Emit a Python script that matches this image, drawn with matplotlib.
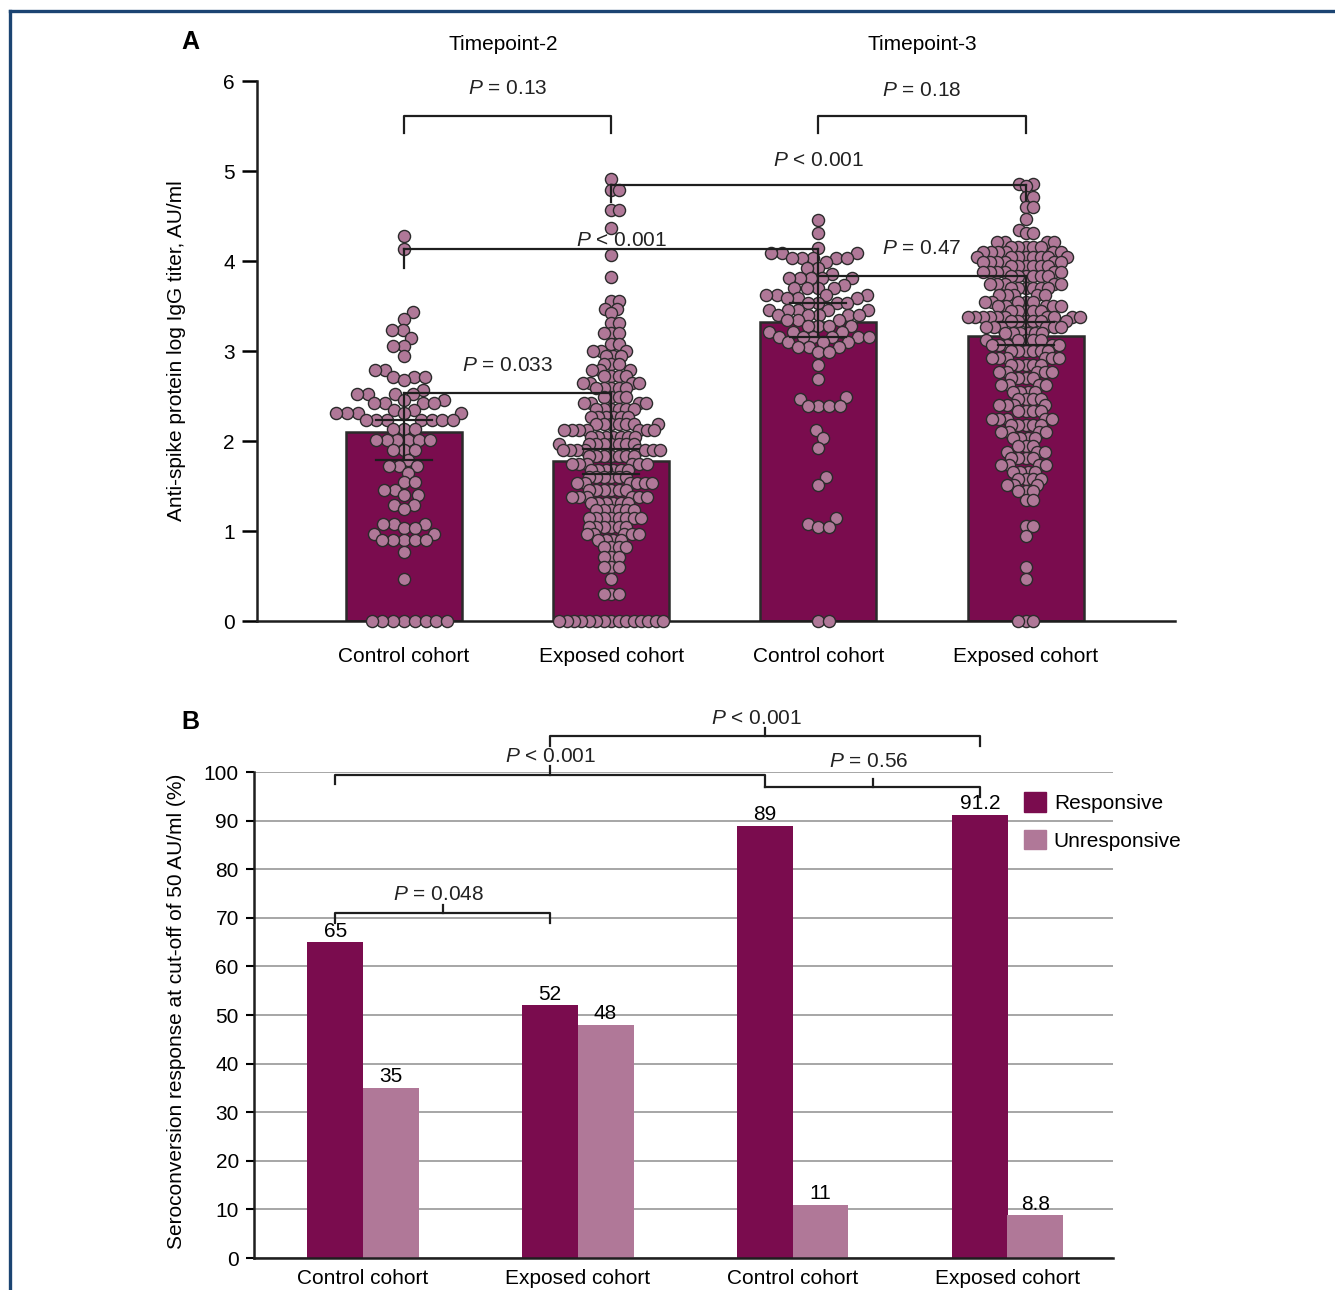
import numpy as np
import matplotlib
matplotlib.use("Agg")
import matplotlib.pyplot as plt
from matplotlib.lines import Line2D
from matplotlib.patches import Patch

plt.rcParams['font.family'] = ['Liberation Sans', 'DejaVu Sans']
plt.rcParams['mathtext.fontset'] = 'custom'
plt.rcParams['mathtext.rm'] = 'Liberation Sans'
plt.rcParams['mathtext.it'] = 'Liberation Sans:italic'

DARK = '#7a0c4e'
PINK = '#b07898'
EDGE = '#2b2b2b'
FS = 15

groups_a = ['Control cohort', 'Exposed cohort', 'Control cohort', 'Exposed cohort']
bar_means = [2.10, 1.78, 3.32, 3.17]
err_lo = [1.79, 1.63, 3.16, 3.07]
err_hi = [2.23, 1.91, 3.53, 3.32]

ctrl_t2_lv = [4.28, 4.13, 3.43, 3.36, 3.23, 3.15, 3.06, 2.94, 2.79, 2.71, 2.68, 2.57, 2.52, 2.46,
              2.42, 2.35, 2.31, 2.23, 2.13, 2.01, 1.90, 1.79, 1.72, 1.65, 1.54, 1.46, 1.40, 1.29,
              1.25, 1.08, 1.03, 0.97, 0.90, 0.77, 0.47, 0.0]
ctrl_t2_n = [1, 1, 1, 1, 2, 1, 2, 1, 2, 3, 1, 1, 4, 2,
             4, 2, 5, 7, 3, 6, 3, 1, 3, 1, 2, 2, 2, 2,
             1, 3, 2, 2, 5, 1, 1, 8]

exp_t2_lv = [4.91, 4.79, 4.57, 4.37, 4.07, 3.82, 3.56, 3.47, 3.42, 3.31, 3.20, 3.08, 3.00, 2.94,
             2.86, 2.79, 2.72, 2.64, 2.59, 2.49, 2.42, 2.36, 2.27, 2.19, 2.12, 2.05, 1.97, 1.90,
             1.83, 1.75, 1.68, 1.60, 1.53, 1.46, 1.38, 1.31, 1.23, 1.14, 1.05, 0.97, 0.90, 0.82,
             0.71, 0.60, 0.47, 0.30, 0.0]
exp_t2_n = [1, 2, 2, 1, 1, 1, 2, 2, 1, 2, 3, 2, 3, 3,
            3, 3, 4, 4, 5, 4, 4, 6, 6, 7, 7, 7, 8, 8,
            7, 6, 6, 6, 6, 6, 6, 6, 6, 8, 6, 5, 4, 4,
            3, 3, 1, 3, 15]

ctrl_t3_lv = [4.46, 4.31, 4.15, 4.09, 4.03, 3.99, 3.92, 3.86, 3.81, 3.73, 3.70, 3.62, 3.59, 3.53,
              3.46, 3.40, 3.34, 3.28, 3.21, 3.16, 3.10, 3.05, 2.99, 2.85, 2.69, 2.49, 2.47, 2.39,
              2.12, 2.03, 1.92, 1.60, 1.51, 1.14, 1.08, 1.05, 0.0]
ctrl_t3_n = [1, 1, 1, 3, 5, 1, 2, 1, 5, 1, 4, 4, 3, 4,
             5, 5, 3, 4, 3, 6, 3, 3, 2, 1, 1, 1, 1, 4,
             1, 1, 1, 1, 1, 1, 1, 2, 2]

exp_t3_lv = [4.86, 4.83, 4.71, 4.60, 4.47, 4.34, 4.31, 4.21, 4.16, 4.10, 4.04, 3.99, 3.94, 3.88,
             3.83, 3.75, 3.70, 3.62, 3.55, 3.50, 3.44, 3.38, 3.33, 3.27, 3.20, 3.12, 3.07, 3.00,
             2.92, 2.85, 2.77, 2.70, 2.62, 2.55, 2.47, 2.40, 2.33, 2.25, 2.18, 2.10, 2.03, 1.95,
             1.88, 1.81, 1.73, 1.66, 1.58, 1.51, 1.44, 1.34, 1.06, 0.95, 0.60, 0.47, 0.0]
exp_t3_n = [2, 1, 2, 2, 1, 1, 2, 4, 5, 6, 8, 6, 6, 6,
            6, 5, 6, 5, 5, 5, 5, 10, 6, 6, 6, 5, 5, 6,
            6, 5, 5, 4, 4, 4, 4, 4, 4, 5, 5, 4, 4, 3,
            3, 4, 4, 4, 4, 3, 3, 2, 2, 1, 1, 1, 3]

swarms = [(ctrl_t2_lv, ctrl_t2_n), (exp_t2_lv, exp_t2_n),
          (ctrl_t3_lv, ctrl_t3_n), (exp_t3_lv, exp_t3_n)]

# ---------------- panel B data ----------------
groups_b = ['Control cohort', 'Exposed cohort', 'Control cohort', 'Exposed cohort']
responsive = [65, 52, 89, 91.2]
unresponsive = [35, 48, 11, 8.8]
resp_lbl = ['65', '52', '89', '91.2']
unresp_lbl = ['35', '48', '11', '8.8']


def swarm_x(ax, xc, vals, diam_px, pack):
    tr = ax.transData
    pts = tr.transform(np.column_stack([np.full(len(vals), xc), vals]))
    d = diam_px * pack
    xs = pts[:, 0].copy()
    placed = []
    for i in np.argsort(pts[:, 1], kind='stable'):
        x0, y = pts[i]
        near = [(px, py) for px, py in placed if abs(py - y) < d]
        cands = [0.0]
        for px, py in near:
            dx = np.sqrt(d ** 2 - (py - y) ** 2)
            cands += [px - x0 + dx, px - x0 - dx]
        cands.sort(key=abs)
        for c in cands:
            if all((x0 + c - px) ** 2 + (y - py) ** 2 >= d ** 2 - 1e-6 for px, py in near):
                break
        xs[i] = x0 + c
        placed.append((x0 + c, y))
    return tr.inverted().transform(np.column_stack([xs, pts[:, 1]]))[:, 0]


def ptext(ax, x, y, op, val, **kw):
    ax.text(x, y, r'$\mathit{P}$' + f' {op} {val}', ha='center', va='center',
            fontsize=FS, color='#222222', zorder=6, **kw)


fig = plt.figure(figsize=(13.35, 12.9), dpi=100)

# ================= panel A =================
ax = fig.add_axes([0.1925, 0.5186, 0.6876, 0.4186])
ax.set_xlim(-0.709, 3.72)
ax.set_ylim(0, 6)
xa = np.arange(4)
ax.bar(xa, bar_means, width=0.56, color=DARK, edgecolor=EDGE, linewidth=1.8, zorder=1)

for i, (lv, n) in enumerate(swarms):
    vals = np.repeat(lv, n)
    pack = 0.9 if i % 2 == 0 else 0.62
    xs = swarm_x(ax, xa[i], vals, 12.0, pack)
    ax.scatter(xs, vals, s=76, color=PINK, edgecolor=EDGE, linewidth=1.0,
               zorder=3, clip_on=False)

lk = dict(color='#1e1e1e', linewidth=1.6, zorder=5, clip_on=False)
cap = 0.135
for i in range(4):
    ax.plot([xa[i] - cap, xa[i] + cap], [err_lo[i]] * 2, **lk)
    ax.plot([xa[i] - cap, xa[i] + cap], [err_hi[i]] * 2, **lk)

# verticals (error bars joined to brackets)
ax.plot([0, 0], [err_lo[0], 2.53], **lk)
ax.plot([1, 1], [err_lo[1], 2.53], **lk)
ax.plot([2, 2], [err_lo[2], 4.13], **lk)
ax.plot([3, 3], [err_lo[3], 3.83], **lk)
ax.plot([0, 0], [3.92, 4.13], **lk)
ax.plot([1, 1], [4.66, 4.84], **lk)
ax.plot([3, 3], [4.68, 4.84], **lk)

# brackets
ax.plot([0, 0, 1, 1], [5.42, 5.61, 5.61, 5.42], **lk)
ax.plot([2, 2, 3, 3], [5.42, 5.61, 5.61, 5.42], **lk)
ax.plot([1, 3], [4.84, 4.84], **lk)
ax.plot([0, 2], [4.13, 4.13], **lk)
ax.plot([2, 3], [3.83, 3.83], **lk)
ax.plot([0, 1], [2.53, 2.53], **lk)

ptext(ax, 0.5, 5.92, '=', '0.13', clip_on=False)
ptext(ax, 2.5, 5.89, '=', '0.18', clip_on=False)
ptext(ax, 2.0, 5.12, '<', '0.001')
ptext(ax, 1.05, 4.23, '<', '0.001')
ptext(ax, 2.5, 4.14, '=', '0.47')
ptext(ax, 0.5, 2.84, '=', '0.033')

ax.text(0.48, 6.41, 'Timepoint-2', ha='center', va='center', fontsize=FS, clip_on=False)
ax.text(2.5, 6.41, 'Timepoint-3', ha='center', va='center', fontsize=FS, clip_on=False)

for s in ['top', 'right']:
    ax.spines[s].set_visible(False)
for s in ['left', 'bottom']:
    ax.spines[s].set_linewidth(1.8)
    ax.spines[s].set_color('#1e1e1e')
ax.set_yticks(range(7))
ax.set_xticks(xa)
ax.set_xticklabels(groups_a)
ax.tick_params(axis='y', length=11, width=1.8, pad=5, labelsize=FS)
ax.tick_params(axis='x', length=5, width=1.5, pad=14, labelsize=FS)
ax.set_ylabel('Anti-spike protein log IgG titer, AU/ml', fontsize=FS)
ax.yaxis.set_label_coords(-0.077, 0.5)

# ================= panel B =================
bx = fig.add_axes([0.1903, 0.0248, 0.6434, 0.3767])
bx.set_xlim(-0.507, 3.49)
bx.set_ylim(0, 100)
xb = np.arange(4)
off = 0.129
w = 0.26
bx.yaxis.grid(True, color='#a6a6a6', linewidth=1.4, zorder=0)
bx.set_axisbelow(True)
bx.bar(xb - off, responsive, width=w, color=DARK, zorder=2, label='Responsive')
bx.bar(xb + off, unresponsive, width=w, color=PINK, zorder=2, label='Unresponsive')
for i in range(4):
    bx.text(xb[i] - off, responsive[i] + 0.3, resp_lbl[i], ha='center', va='bottom', fontsize=FS)
    bx.text(xb[i] + off, unresponsive[i] + 0.3, unresp_lbl[i], ha='center', va='bottom', fontsize=FS)

bk = dict(color='#1e1e1e', linewidth=1.6, zorder=5, clip_on=False)
r0, r1, r2, r3 = xb - off
bx.plot([r0, r0, r1, r1], [68.9, 71.0, 71.0, 68.9], **bk)
bx.plot([(r0 + r1) / 2] * 2, [71.0, 72.6], **bk)
ptext(bx, (r0 + r1) / 2 - 0.02, 74.8, '=', '0.048')

bx.plot([r0, r0, r2, r2], [97.6, 99.4, 99.4, 96.9], **bk)
bx.plot([(r0 + r2) / 2] * 2, [99.4, 101.2], **bk)
ptext(bx, (r0 + r2) / 2, 103.3, '<', '0.001', clip_on=False)

bx.plot([r2, r3, r3], [96.9, 96.9, 94.9], **bk)
bx.plot([(r2 + r3) / 2] * 2, [96.9, 98.6], **bk)
ptext(bx, (r2 + r3) / 2 - 0.02, 102.1, '=', '0.56', clip_on=False)

bx.plot([r1, r1, r3, r3], [105.3, 107.4, 107.4, 105.3], **bk)
bx.plot([(r1 + r3) / 2] * 2, [107.4, 109.1], **bk)
ptext(bx, (r1 + r3) / 2 - 0.04, 111.1, '<', '0.001', clip_on=False)

for s in ['top', 'right']:
    bx.spines[s].set_visible(False)
for s in ['left', 'bottom']:
    bx.spines[s].set_linewidth(1.8)
    bx.spines[s].set_color('#1e1e1e')
bx.set_yticks(range(0, 101, 10))
bx.set_xticks(xb)
bx.set_xticklabels(groups_b)
bx.tick_params(axis='y', length=6, width=1.5, pad=5, labelsize=FS)
bx.tick_params(axis='x', length=0, pad=8, labelsize=FS)
bx.set_ylabel('Seroconversion response at cut-off of 50 AU/ml (%)', fontsize=FS)
bx.yaxis.set_label_coords(-0.079, 0.508)

handles = [Patch(color=DARK, label='Responsive'), Patch(color=PINK, label='Unresponsive')]
bx.legend(handles=handles, loc='upper left', bbox_to_anchor=(0.896, 0.958), frameon=False,
          fontsize=FS, handlelength=1.05, handleheight=1.05, handletextpad=0.4,
          labelspacing=0.8, borderpad=0, borderaxespad=0)

# panel letters and frame
fig.text(0.1423, 0.9674, 'A', fontsize=18, fontweight='bold', ha='center', va='center')
fig.text(0.1423, 0.4403, 'B', fontsize=18, fontweight='bold', ha='center', va='center')
fig.add_artist(Line2D([10 / 1335, 1], [1 - 11 / 1290] * 2, color='#1b4472', linewidth=2.4))
fig.add_artist(Line2D([10 / 1335] * 2, [0, 1 - 11 / 1290], color='#1b4472', linewidth=2.4))

fig.savefig('out.png', dpi=100)
